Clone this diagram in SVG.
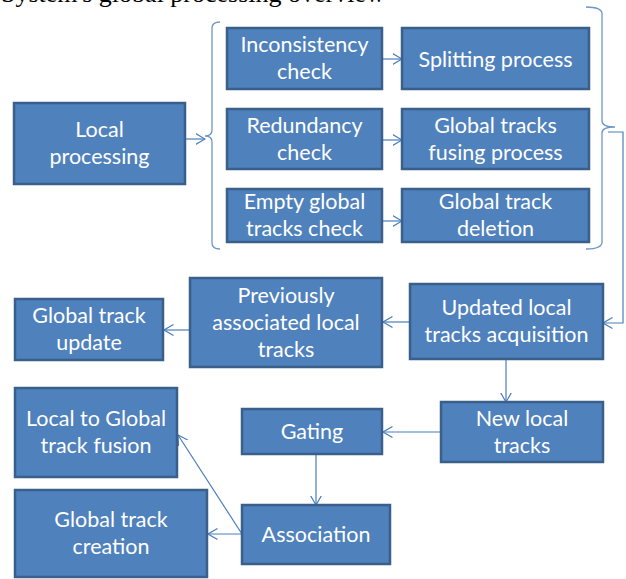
<svg xmlns="http://www.w3.org/2000/svg" width="626" height="579" viewBox="0 0 626 579">
<defs>
<style>
.box{fill:#4F81BD;stroke:#3A5F8B;stroke-width:2.5}
.t{font-family:Lato,"Open Sans","Liberation Sans",sans-serif;font-size:21.5px;fill:#FFFFFF;text-anchor:middle}
.c{fill:none;stroke:#4A7EBB;stroke-width:1.2}
.br{fill:none;stroke:#6F96C8;stroke-width:1.3}
.title{font-family:"Liberation Serif","Times New Roman",serif;font-size:26px;fill:#000}
</style>
<marker id="ah" viewBox="0 0 10 12" refX="9.5" refY="6" markerWidth="10" markerHeight="12" markerUnits="userSpaceOnUse" orient="auto">
<path d="M0,0.5 L9.5,6 L0,11.5" fill="none" stroke="#4A7EBB" stroke-width="1.2"/>
</marker>
</defs>
<rect width="626" height="579" fill="#FFFFFF"/>
<text class="title" x="1" y="1.5">System's global processing overview</text>

<g id="connectors">
<path class="br" d="M220,22 Q212,22 212,28 L212,130 Q212,136 205,136 Q212,136 212,142 L212,243 Q212,249 220,249"/>
<path class="br" d="M586,7 Q602,7 602,14 L602,121 Q602,127 615,127 Q602,127 602,133 L602,242 Q602,249 586,249"/>
<line class="c" x1="185" y1="139" x2="205" y2="139" marker-end="url(#ah)"/>
<line class="c" x1="383" y1="59" x2="402" y2="59" marker-end="url(#ah)"/>
<line class="c" x1="383" y1="140" x2="402" y2="140" marker-end="url(#ah)"/>
<line class="c" x1="383" y1="221" x2="402" y2="221" marker-end="url(#ah)"/>
<polyline class="c" points="608,132 623,132 623,323 603,323" marker-end="url(#ah)"/>
<line class="c" x1="410" y1="322" x2="383" y2="322" marker-end="url(#ah)"/>
<line class="c" x1="190" y1="330" x2="164" y2="330" marker-end="url(#ah)"/>
<line class="c" x1="506" y1="359" x2="506" y2="402" marker-end="url(#ah)"/>
<line class="c" x1="441" y1="432" x2="383" y2="432" marker-end="url(#ah)"/>
<line class="c" x1="316" y1="454" x2="316" y2="505" marker-end="url(#ah)"/>
<line class="c" x1="242" y1="534" x2="178" y2="435" marker-end="url(#ah)"/>
<line class="c" x1="242" y1="534" x2="208" y2="534" marker-end="url(#ah)"/>
</g>

<g id="inconsistency-check">
<rect class="box" x="227" y="28" width="155" height="61"/>
<text class="t" x="304.5" y="52">Inconsistency</text>
<text class="t" x="304.5" y="79">check</text>
</g>
<g id="splitting-process">
<rect class="box" x="402" y="28" width="187" height="61"/>
<text class="t" x="495.5" y="66.5">Splitting process</text>
</g>
<g id="local-processing">
<rect class="box" x="14" y="103" width="171" height="81"/>
<text class="t" x="99.5" y="137">Local</text>
<text class="t" x="99.5" y="164">processing</text>
</g>
<g id="redundancy-check">
<rect class="box" x="227" y="109" width="155" height="60"/>
<text class="t" x="304.5" y="132.5">Redundancy</text>
<text class="t" x="304.5" y="159.5">check</text>
</g>
<g id="global-tracks-fusing">
<rect class="box" x="402" y="109" width="187" height="60"/>
<text class="t" x="495.5" y="132.5">Global tracks</text>
<text class="t" x="495.5" y="159.5">fusing process</text>
</g>
<g id="empty-global-tracks-check">
<rect class="box" x="227" y="189" width="155" height="53"/>
<text class="t" x="304.5" y="209">Empty global</text>
<text class="t" x="304.5" y="236">tracks check</text>
</g>
<g id="global-track-deletion">
<rect class="box" x="402" y="189" width="187" height="53"/>
<text class="t" x="495.5" y="209">Global track</text>
<text class="t" x="495.5" y="236">deletion</text>
</g>
<g id="updated-local-tracks">
<rect class="box" x="410" y="284" width="193" height="75"/>
<text class="t" x="506.5" y="315">Updated local</text>
<text class="t" x="506.5" y="342">tracks acquisition</text>
</g>
<g id="previously-associated">
<rect class="box" x="190" y="278" width="192" height="89"/>
<text class="t" x="286" y="302.5">Previously</text>
<text class="t" x="286" y="329.5">associated local</text>
<text class="t" x="286" y="356.5">tracks</text>
</g>
<g id="global-track-update">
<rect class="box" x="15" y="299" width="148" height="61"/>
<text class="t" x="89" y="323">Global track</text>
<text class="t" x="89" y="350">update</text>
</g>
<g id="new-local-tracks">
<rect class="box" x="441" y="402" width="162" height="60"/>
<text class="t" x="522" y="425.5">New local</text>
<text class="t" x="522" y="452.5">tracks</text>
</g>
<g id="gating">
<rect class="box" x="242" y="409" width="140" height="45"/>
<text class="t" x="312" y="438.5">Gating</text>
</g>
<g id="local-to-global-fusion">
<rect class="box" x="15" y="388" width="162" height="89"/>
<text class="t" x="96" y="425.5">Local to Global</text>
<text class="t" x="96" y="452.5">track fusion</text>
</g>
<g id="association">
<rect class="box" x="242" y="505" width="148" height="59"/>
<text class="t" x="316" y="541.5">Association</text>
</g>
<g id="global-track-creation">
<rect class="box" x="15" y="490" width="192" height="87"/>
<text class="t" x="111" y="527">Global track</text>
<text class="t" x="111" y="554">creation</text>
</g>
</svg>
